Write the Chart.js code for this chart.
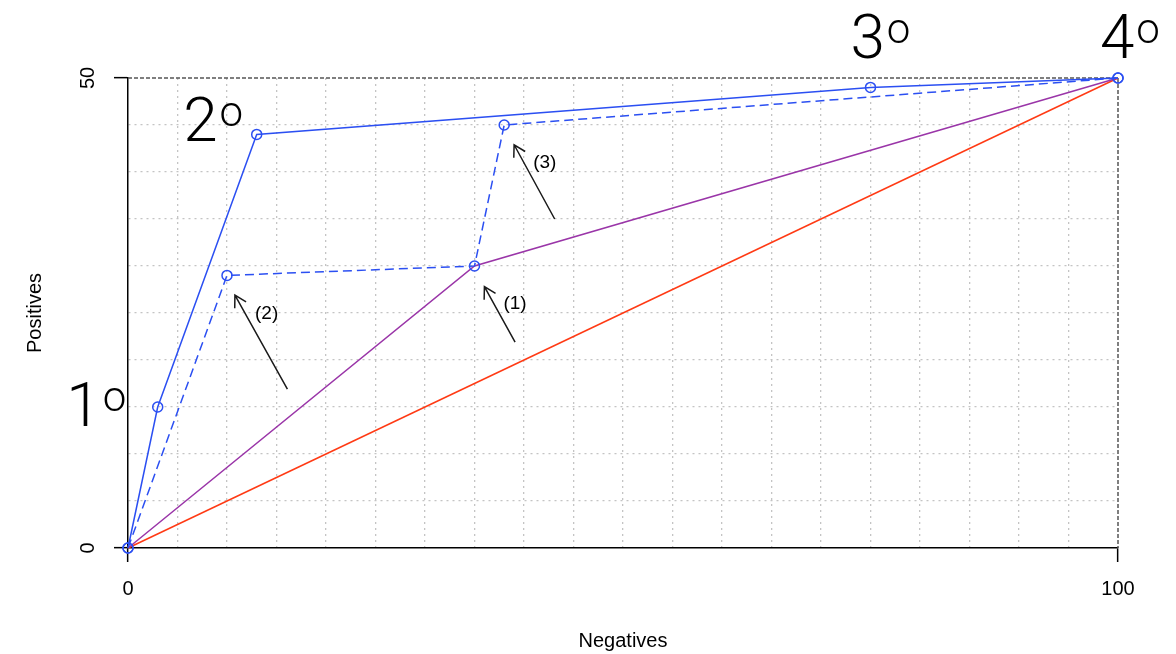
<!DOCTYPE html>
<html>
<head>
<meta charset="utf-8">
<script src="https://cdn.jsdelivr.net/npm/chart.js@4.4.1/dist/chart.umd.min.js"></script>
<style>
html,body{margin:0;padding:0;background:#fff;}
canvas{display:block;}
</style>
</head>
<body>
<canvas id="c" width="1176" height="654"></canvas>
<script>
// ---- data ----
const negSolid = [0, 3, 13, 75, 100];
const posSolid = [0, 15, 44, 49, 50];
const negDashed = [0, 10, 35, 38, 100];
const posDashed = [0, 29, 30, 45, 50];
const negPurple = [0, 35, 100];
const posPurple = [0, 30, 50];
const negRed = [0, 100];
const posRed = [0, 50];
const xTickLabels = [0, 100];
const yTickLabels = [0, 50];
const bigLabels = ['1', '2', '3', '4'];
const bigLabelX = [-3.2, 8.6, 76, 101.2];
const bigLabelY = [15.3, 45.6, 54.5, 54.5];
const arrowNames = ['(1)', '(2)', '(3)'];
const arrowTailX = [39.1, 16.1, 43.1];
const arrowTailY = [21.9, 16.9, 35.0];
const arrowHeadX = [36.0, 10.8, 39.0];
const arrowHeadY = [27.8, 26.9, 42.9];
const arrowLabelX = [39.1, 14.0, 42.1];
const arrowLabelY = [26.0, 24.9, 41.0];

const toPts = (xs, ys) => xs.map((v, i) => ({x: v, y: ys[i]}));
const FONT = '"Liberation Sans", Arial, Helvetica, sans-serif';
const BIGFONT = 'Roboto, "Liberation Sans", sans-serif';
const BLUE = '#2b4ff2';

const chromePlugin = {
  id: 'chrome',
  beforeDatasetsDraw(chart) {
    const {ctx, scales: {x, y}} = chart;
    ctx.save();
    ctx.strokeStyle = '#555';
    ctx.lineWidth = 1.5;
    ctx.setLineDash([4, 2]);
    ctx.beginPath();
    ctx.moveTo(x.getPixelForValue(0), y.getPixelForValue(50));
    ctx.lineTo(x.getPixelForValue(100), y.getPixelForValue(50));
    ctx.lineTo(x.getPixelForValue(100), y.getPixelForValue(0));
    ctx.stroke();
    ctx.restore();
  },
  afterDraw(chart) {
    const {ctx, scales: {x, y}, chartArea: ca} = chart;
    ctx.save();
    ctx.fillStyle = '#000';
    // tick labels
    ctx.font = '20px ' + FONT;
    ctx.textAlign = 'center';
    ctx.textBaseline = 'middle';
    xTickLabels.forEach(v => ctx.fillText(String(v), x.getPixelForValue(v), ca.bottom + 41));
    yTickLabels.forEach(v => {
      ctx.save();
      ctx.translate(ca.left - 40, y.getPixelForValue(v));
      ctx.rotate(-Math.PI / 2);
      ctx.fillText(String(v), 0, 0);
      ctx.restore();
    });
    // axis titles
    ctx.font = '20px ' + FONT;
    ctx.fillText('Negatives', (ca.left + ca.right) / 2, ca.bottom + 93);
    ctx.save();
    ctx.translate(ca.left - 93, (ca.top + ca.bottom) / 2);
    ctx.rotate(-Math.PI / 2);
    ctx.fillText('Positives', 0, 0);
    ctx.restore();
    // big labels
    ctx.textAlign = 'left';
    ctx.textBaseline = 'alphabetic';
    bigLabels.forEach((d, i) => {
      const px = x.getPixelForValue(bigLabelX[i]);
      const py = y.getPixelForValue(bigLabelY[i]);
      ctx.font = '300 62px ' + BIGFONT;
      const wd = ctx.measureText(d).width;
      ctx.font = '300 42px ' + BIGFONT;
      const wo = ctx.measureText('o').width;
      const start = px - (wd + 2 + wo) / 2;
      const base = py + 22;
      ctx.font = '300 62px ' + BIGFONT;
      ctx.fillText(d, start, base);
      ctx.font = '300 42px ' + BIGFONT;
      ctx.fillText('o', start + wd + 2, base - 15);
    });
    // arrows
    ctx.strokeStyle = '#1a1a1a';
    ctx.lineWidth = 1.5;
    ctx.setLineDash([]);
    arrowNames.forEach((n, i) => {
      const tx = x.getPixelForValue(arrowTailX[i]), ty = y.getPixelForValue(arrowTailY[i]);
      const hx = x.getPixelForValue(arrowHeadX[i]), hy = y.getPixelForValue(arrowHeadY[i]);
      const ang = Math.atan2(ty - hy, tx - hx);
      const L = 13, a = Math.PI / 6;
      ctx.beginPath();
      ctx.moveTo(tx, ty);
      ctx.lineTo(hx, hy);
      ctx.moveTo(hx + L * Math.cos(ang + a), hy + L * Math.sin(ang + a));
      ctx.lineTo(hx, hy);
      ctx.lineTo(hx + L * Math.cos(ang - a), hy + L * Math.sin(ang - a));
      ctx.stroke();
      ctx.font = '19px ' + FONT;
      ctx.textAlign = 'center';
      ctx.textBaseline = 'middle';
      ctx.fillText(n, x.getPixelForValue(arrowLabelX[i]), y.getPixelForValue(arrowLabelY[i]));
      ctx.textAlign = 'left';
      ctx.textBaseline = 'alphabetic';
    });
    ctx.restore();
  }
};

const gridColor = (max) => (c) => {
  const v = c.tick ? c.tick.value : null;
  return (v === 0 || v === max) ? 'rgba(0,0,0,0)' : '#c4c4c4';
};
const tickColor = (max) => (c) => {
  const v = c.tick ? c.tick.value : null;
  return (v === 0 || v === max) ? '#000' : 'rgba(0,0,0,0)';
};

new Chart(document.getElementById('c'), {
  type: 'line',
  data: {
    datasets: [
      {data: toPts(negSolid, posSolid), borderColor: BLUE, borderWidth: 1.5, pointRadius: 5,
       pointBorderColor: BLUE, pointBackgroundColor: 'rgba(0,0,0,0)', pointBorderWidth: 1.5, clip: false, tension: 0},
      {data: toPts(negDashed, posDashed), borderColor: BLUE, borderWidth: 1.5, borderDash: [9, 5], pointRadius: 5,
       pointBorderColor: BLUE, pointBackgroundColor: 'rgba(0,0,0,0)', pointBorderWidth: 1.5, clip: false, tension: 0},
      {data: toPts(negPurple, posPurple), borderColor: '#9a35a8', borderWidth: 1.5, pointRadius: 0, clip: false},
      {data: toPts(negRed, posRed), borderColor: '#ff3a14', borderWidth: 1.5, pointRadius: 0, clip: false}
    ]
  },
  options: {
    responsive: false,
    animation: false,
    devicePixelRatio: 1,
    layout: {padding: {left: 114, right: 58, top: 78, bottom: 92}},
    plugins: {legend: {display: false}, tooltip: {enabled: false}},
    scales: {
      x: {
        type: 'linear', min: 0, max: 100,
        ticks: {display: false, stepSize: 5},
        grid: {color: gridColor(100), lineWidth: 1.3, tickLength: 14, tickColor: tickColor(100), tickWidth: 1.5},
        border: {display: true, color: '#000', width: 1.5, dash: [2, 4]}
      },
      y: {
        type: 'linear', min: 0, max: 50,
        ticks: {display: false, stepSize: 5},
        grid: {color: gridColor(50), lineWidth: 1.3, tickLength: 14, tickColor: tickColor(50), tickWidth: 1.5},
        border: {display: true, color: '#000', width: 1.5, dash: [2, 4]}
      }
    }
  },
  plugins: [chromePlugin]
});
</script>
</body>
</html>
